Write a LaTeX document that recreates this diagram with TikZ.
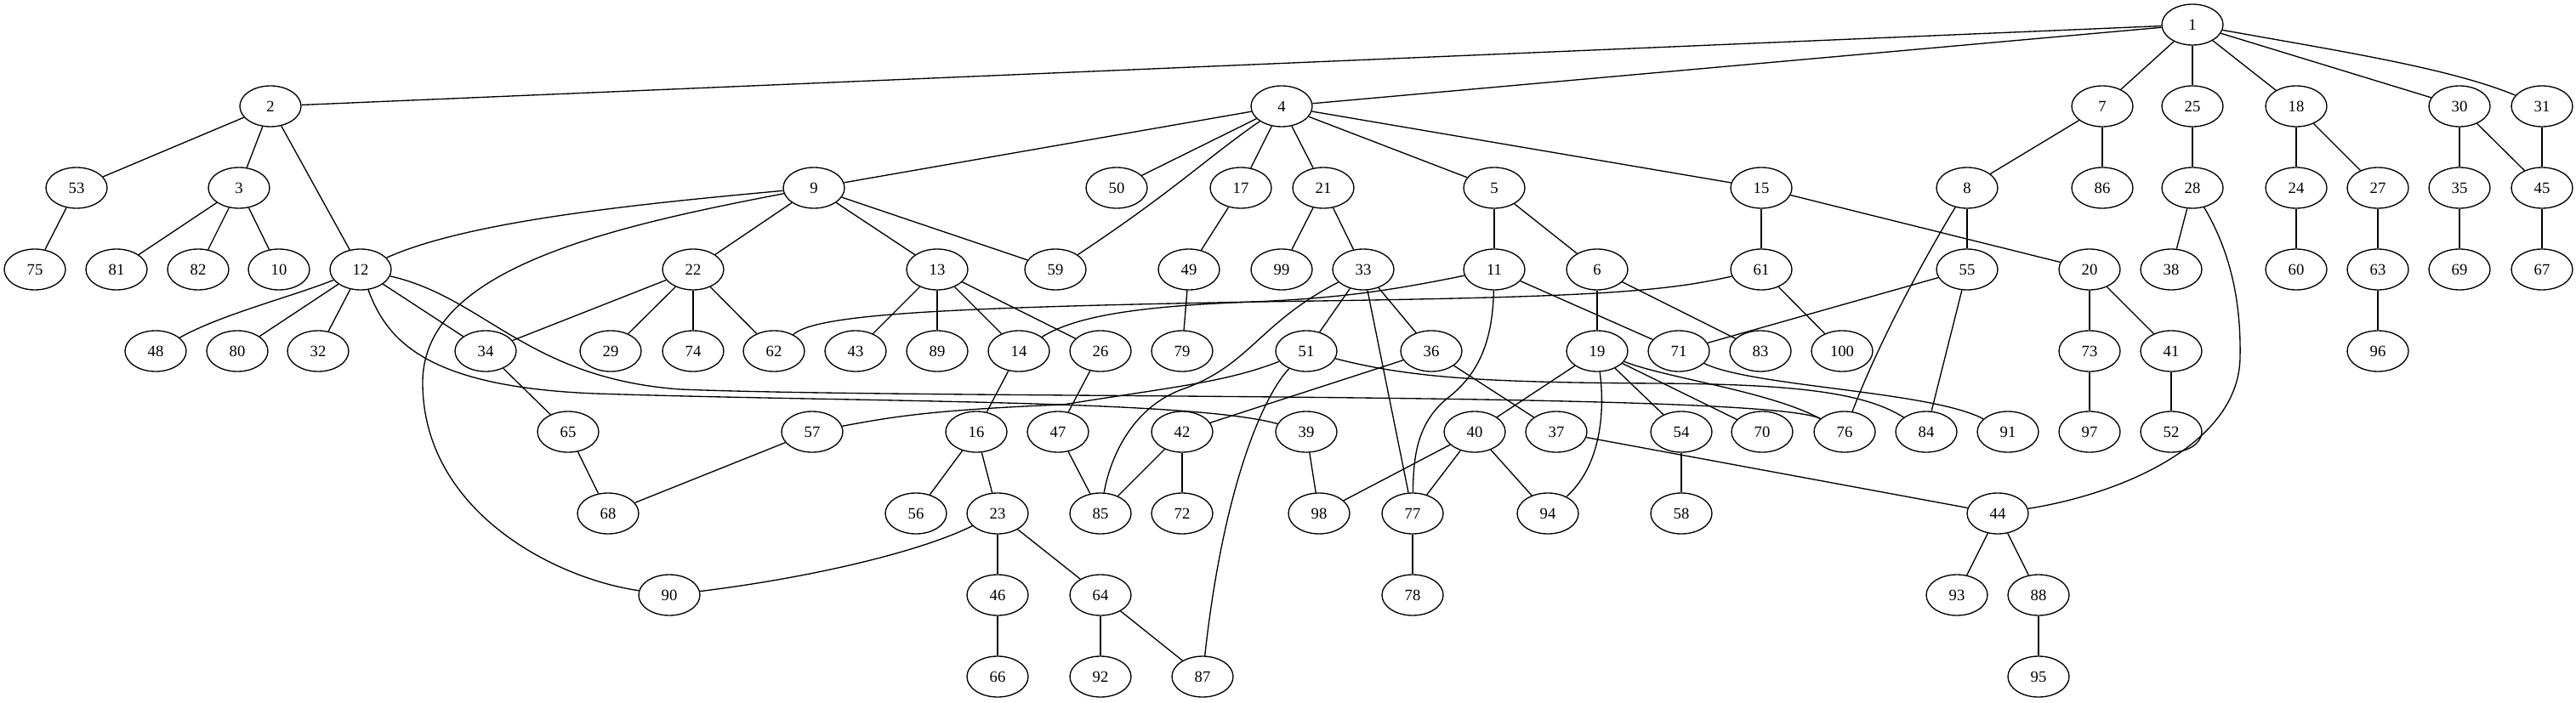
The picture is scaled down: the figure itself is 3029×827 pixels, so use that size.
\documentclass[tikz,border=0pt]{standalone}
\usepackage{fontspec}
\setmainfont{Liberation Serif}
\usepackage{tikz}
\usetikzlibrary{shapes.geometric}
\tikzstyle{vertex}=[ellipse,draw,minimum width=54pt,minimum height=36pt,inner sep=0pt,font=\fontsize{14}{16}\selectfont]

\begin{document}
\begin{tikzpicture}[x=0.75pt,y=-0.75pt,line width=1pt]
      \useasboundingbox (0,0) rectangle (3029,827);
      \node[vertex] (n1) at (2578, 29) {1};
      \node[vertex] (n2) at (318, 125) {2};
      \node[vertex] (n4) at (1507, 125) {4};
      \node[vertex] (n7) at (2472, 125) {7};
      \node[vertex] (n25) at (2578, 125) {25};
      \node[vertex] (n18) at (2700, 125) {18};
      \node[vertex] (n30) at (2892, 125) {30};
      \node[vertex] (n31) at (2989, 125) {31};
      \node[vertex] (n53) at (90, 221) {53};
      \node[vertex] (n3) at (281, 221) {3};
      \node[vertex] (n9) at (957, 221) {9};
      \node[vertex] (n50) at (1313, 221) {50};
      \node[vertex] (n17) at (1459, 221) {17};
      \node[vertex] (n21) at (1556, 221) {21};
      \node[vertex] (n5) at (1757, 221) {5};
      \node[vertex] (n15) at (2071, 221) {15};
      \node[vertex] (n8) at (2313, 221) {8};
      \node[vertex] (n86) at (2472, 221) {86};
      \node[vertex] (n28) at (2578, 221) {28};
      \node[vertex] (n24) at (2700, 221) {24};
      \node[vertex] (n27) at (2796, 221) {27};
      \node[vertex] (n35) at (2892, 221) {35};
      \node[vertex] (n45) at (2989, 221) {45};
      \node[vertex] (n75) at (41, 317) {75};
      \node[vertex] (n81) at (137, 317) {81};
      \node[vertex] (n82) at (233, 317) {82};
      \node[vertex] (n10) at (328, 317) {10};
      \node[vertex] (n12) at (424, 317) {12};
      \node[vertex] (n22) at (815, 317) {22};
      \node[vertex] (n13) at (1102, 317) {13};
      \node[vertex] (n59) at (1241, 317) {59};
      \node[vertex] (n49) at (1398, 317) {49};
      \node[vertex] (n99) at (1507, 317) {99};
      \node[vertex] (n33) at (1603, 317) {33};
      \node[vertex] (n11) at (1757, 317) {11};
      \node[vertex] (n6) at (1878, 317) {6};
      \node[vertex] (n61) at (2071, 317) {61};
      \node[vertex] (n55) at (2313, 317) {55};
      \node[vertex] (n20) at (2457, 317) {20};
      \node[vertex] (n38) at (2553, 317) {38};
      \node[vertex] (n60) at (2700, 317) {60};
      \node[vertex] (n63) at (2796, 317) {63};
      \node[vertex] (n69) at (2892, 317) {69};
      \node[vertex] (n67) at (2989, 317) {67};
      \node[vertex] (n48) at (183, 413) {48};
      \node[vertex] (n80) at (279, 413) {80};
      \node[vertex] (n32) at (374, 413) {32};
      \node[vertex] (n34) at (571, 413) {34};
      \node[vertex] (n29) at (718, 413) {29};
      \node[vertex] (n74) at (815, 413) {74};
      \node[vertex] (n62) at (910, 413) {62};
      \node[vertex] (n43) at (1006, 413) {43};
      \node[vertex] (n89) at (1102, 413) {89};
      \node[vertex] (n14) at (1198, 413) {14};
      \node[vertex] (n26) at (1294, 413) {26};
      \node[vertex] (n79) at (1390, 413) {79};
      \node[vertex] (n51) at (1536, 413) {51};
      \node[vertex] (n36) at (1683, 413) {36};
      \node[vertex] (n19) at (1878, 413) {19};
      \node[vertex] (n71) at (1974, 413) {71};
      \node[vertex] (n83) at (2070, 413) {83};
      \node[vertex] (n100) at (2166, 413) {100};
      \node[vertex] (n73) at (2457, 413) {73};
      \node[vertex] (n41) at (2553, 413) {41};
      \node[vertex] (n96) at (2796, 413) {96};
      \node[vertex] (n65) at (668, 508) {65};
      \node[vertex] (n57) at (955, 508) {57};
      \node[vertex] (n16) at (1148, 508) {16};
      \node[vertex] (n47) at (1244, 508) {47};
      \node[vertex] (n42) at (1390, 508) {42};
      \node[vertex] (n39) at (1536, 508) {39};
      \node[vertex] (n40) at (1734, 508) {40};
      \node[vertex] (n37) at (1830, 508) {37};
      \node[vertex] (n54) at (1977, 508) {54};
      \node[vertex] (n70) at (2072, 508) {70};
      \node[vertex] (n76) at (2169, 508) {76};
      \node[vertex] (n84) at (2265, 508) {84};
      \node[vertex] (n91) at (2361, 508) {91};
      \node[vertex] (n97) at (2457, 508) {97};
      \node[vertex] (n52) at (2553, 508) {52};
      \node[vertex] (n68) at (715, 604) {68};
      \node[vertex] (n56) at (1077, 604) {56};
      \node[vertex] (n23) at (1173, 604) {23};
      \node[vertex] (n85) at (1294, 604) {85};
      \node[vertex] (n72) at (1390, 604) {72};
      \node[vertex] (n98) at (1551, 604) {98};
      \node[vertex] (n77) at (1661, 604) {77};
      \node[vertex] (n94) at (1820, 604) {94};
      \node[vertex] (n58) at (1977, 604) {58};
      \node[vertex] (n44) at (2349, 604) {44};
      \node[vertex] (n90) at (787, 700) {90};
      \node[vertex] (n46) at (1173, 700) {46};
      \node[vertex] (n64) at (1294, 700) {64};
      \node[vertex] (n78) at (1661, 700) {78};
      \node[vertex] (n93) at (2301, 700) {93};
      \node[vertex] (n88) at (2397, 700) {88};
      \node[vertex] (n66) at (1173, 796) {66};
      \node[vertex] (n92) at (1294, 796) {92};
      \node[vertex] (n87) at (1414, 796) {87};
      \node[vertex] (n95) at (2397, 796) {95};
      \draw (n1) -- (n2);
      \draw (n1) -- (n4);
      \draw (n1) -- (n7);
      \draw (n1) -- (n25);
      \draw (n1) -- (n18);
      \draw (n1) -- (n30);
      \draw (n1) .. controls (2750,60) and (2880,80) .. (n31);
      \draw (n2) -- (n53);
      \draw (n2) -- (n3);
      \draw (n2) -- (n12);
      \draw (n53) -- (n75);
      \draw (n3) -- (n81);
      \draw (n3) -- (n82);
      \draw (n3) -- (n10);
      \draw (n4) -- (n9);
      \draw (n4) -- (n50);
      \draw (n4) .. controls (1420,185) and (1380,225) .. (n59);
      \draw (n4) -- (n17);
      \draw (n4) -- (n21);
      \draw (n4) -- (n5);
      \draw (n4) -- (n15);
      \draw (n7) -- (n8);
      \draw (n7) -- (n86);
      \draw (n25) -- (n28);
      \draw (n18) -- (n24);
      \draw (n18) -- (n27);
      \draw (n30) -- (n35);
      \draw (n30) -- (n45);
      \draw (n31) -- (n45);
      \draw (n9) .. controls (750,240) and (550,260) .. (n12);
      \draw (n9) .. controls (700,270) and (497,320) .. (497,450) .. controls (497,600) and (650,680) .. (n90);
      \draw (n9) -- (n22);
      \draw (n9) -- (n13);
      \draw (n9) -- (n59);
      \draw (n17) -- (n49);
      \draw (n21) -- (n99);
      \draw (n21) -- (n33);
      \draw (n5) -- (n11);
      \draw (n5) -- (n6);
      \draw (n15) -- (n61);
      \draw (n15) -- (n20);
      \draw (n8) -- (n55);
      \draw (n8) .. controls (2265,300) and (2210,400) .. (n76);
      \draw (n28) -- (n38);
      \draw (n28) .. controls (2625,300) and (2635,360) .. (2634,420) .. controls (2633,520) and (2500,580) .. (n44);
      \draw (n24) -- (n60);
      \draw (n27) -- (n63);
      \draw (n35) -- (n69);
      \draw (n45) -- (n67);
      \draw (n12) .. controls (340,350) and (260,370) .. (n48);
      \draw (n12) -- (n80);
      \draw (n12) -- (n32);
      \draw (n12) -- (n34);
      \draw (n12) .. controls (455,400) and (500,455) .. (700,463) .. controls (1000,473) and (1400,470) .. (n39);
      \draw (n12) .. controls (570,350) and (620,445) .. (800,458) .. controls (1100,470) and (2080,460) .. (n76);
      \draw (n22) -- (n34);
      \draw (n22) -- (n29);
      \draw (n22) -- (n74);
      \draw (n22) -- (n62);
      \draw (n13) -- (n43);
      \draw (n13) -- (n89);
      \draw (n13) -- (n14);
      \draw (n13) -- (n26);
      \draw (n49) -- (n79);
      \draw (n33) -- (n51);
      \draw (n33) -- (n36);
      \draw (n33) -- (n77);
      \draw (n33) .. controls (1480,380) and (1470,430) .. (1390,458) .. controls (1330,480) and (1305,540) .. (n85);
      \draw (n11) .. controls (1620,345) and (1560,352) .. (1450,356) .. controls (1320,362) and (1260,375) .. (n14);
      \draw (n11) -- (n71);
      \draw (n11) .. controls (1755,400) and (1740,440) .. (1700,470) .. controls (1665,500) and (1662,540) .. (n77);
      \draw (n6) -- (n19);
      \draw (n6) -- (n83);
      \draw (n61) .. controls (1950,345) and (1850,350) .. (1480,355) .. controls (1100,362) and (960,370) .. (n62);
      \draw (n61) -- (n100);
      \draw (n55) -- (n71);
      \draw (n55) -- (n84);
      \draw (n20) -- (n73);
      \draw (n20) -- (n41);
      \draw (n63) -- (n96);
      \draw (n34) -- (n65);
      \draw (n14) -- (n16);
      \draw (n26) -- (n47);
      \draw (n51) .. controls (1440,450) and (1380,455) .. (1250,476) .. controls (1100,482) and (1050,490) .. (n57);
      \draw (n51) .. controls (1490,460) and (1440,560) .. (n87);
      \draw (n51) .. controls (1660,445) and (1750,450) .. (1950,451) .. controls (2100,452) and (2190,460) .. (n84);
      \draw (n36) -- (n42);
      \draw (n36) -- (n37);
      \draw (n19) -- (n40);
      \draw (n19) .. controls (1888,490) and (1880,550) .. (n94);
      \draw (n19) -- (n54);
      \draw (n19) -- (n70);
      \draw (n19) .. controls (1960,445) and (2080,460) .. (n76);
      \draw (n71) .. controls (2060,455) and (2270,460) .. (n91);
      \draw (n73) -- (n97);
      \draw (n41) -- (n52);
      \draw (n65) -- (n68);
      \draw (n57) -- (n68);
      \draw (n16) -- (n56);
      \draw (n16) -- (n23);
      \draw (n47) -- (n85);
      \draw (n42) -- (n85);
      \draw (n42) -- (n72);
      \draw (n39) -- (n98);
      \draw (n40) -- (n98);
      \draw (n40) -- (n77);
      \draw (n40) -- (n94);
      \draw (n37) -- (n44);
      \draw (n54) -- (n58);
      \draw (n23) .. controls (1080,650) and (950,680) .. (n90);
      \draw (n23) -- (n46);
      \draw (n23) -- (n64);
      \draw (n77) -- (n78);
      \draw (n44) -- (n93);
      \draw (n44) -- (n88);
      \draw (n46) -- (n66);
      \draw (n64) -- (n92);
      \draw (n64) -- (n87);
      \draw (n88) -- (n95);
    \end{tikzpicture}
\end{document}
